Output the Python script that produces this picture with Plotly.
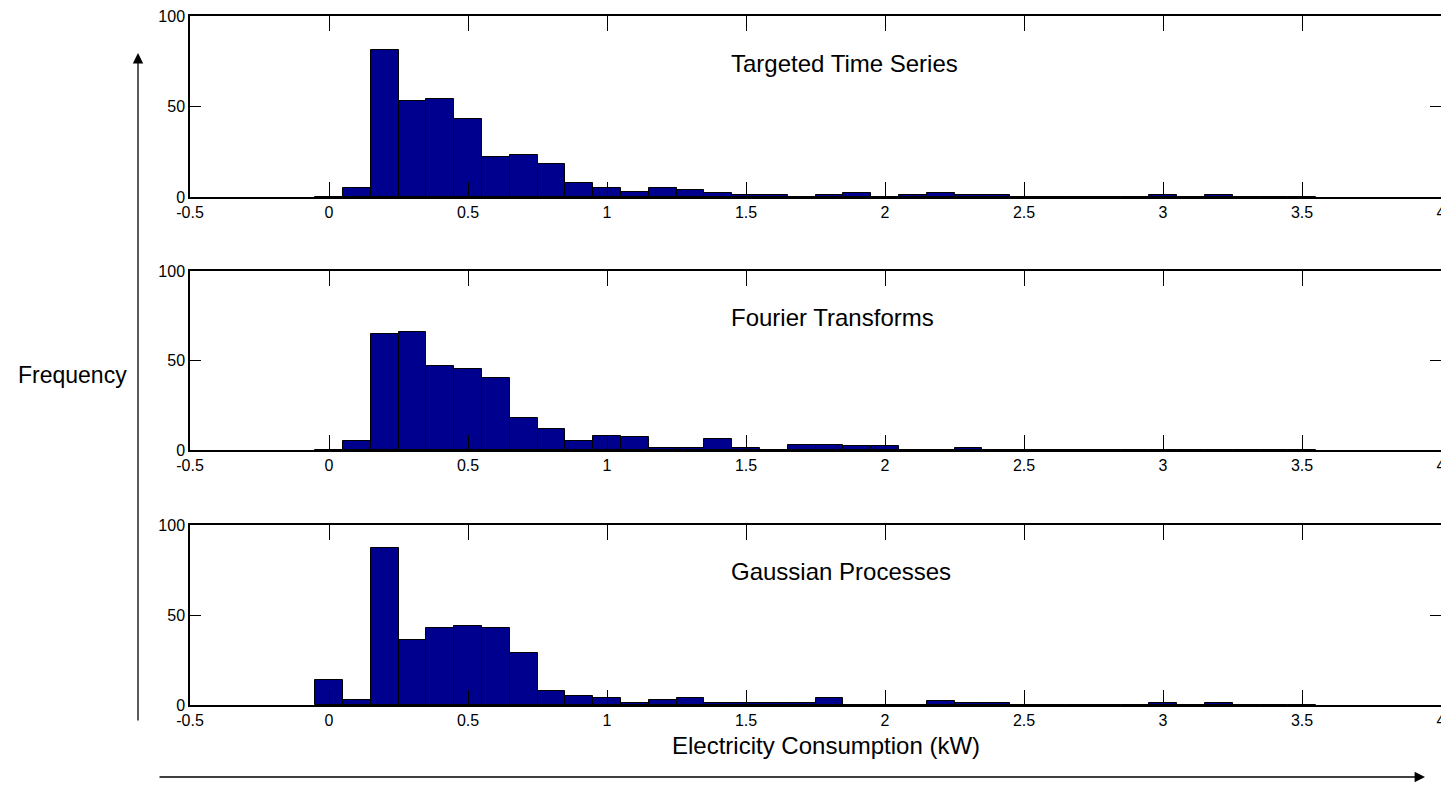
import plotly.graph_objects as go

# Histogram bin centres (kW), bin width 0.1
bin_centers = [round(0.1 * i, 1) for i in range(36)]

# Counts per bin for each method
targeted_counts = [0, 5, 81, 53, 54, 43, 22, 23, 18, 8,
                   5, 3, 5, 4, 2, 1, 1, 0, 1, 2,
                   0, 1, 2, 1, 1, 0, 0, 0, 0, 0,
                   1, 0, 1, 0, 0, 0]
fourier_counts = [0, 5, 65, 66, 47, 45, 40, 18, 12, 5,
                  8, 7, 1, 1, 6, 1, 0, 3, 3, 2,
                  2, 0, 0, 1, 0, 0, 0, 0, 0, 0,
                  0, 0, 0, 0, 0, 0]
gaussian_counts = [14, 3, 87, 36, 43, 44, 43, 29, 8, 5,
                   4, 1, 3, 4, 1, 1, 1, 1, 4, 0,
                   0, 0, 2, 1, 1, 0, 0, 0, 0, 0,
                   1, 0, 1, 0, 0, 0]

panel_titles = ["Targeted Time Series", "Fourier Transforms", "Gaussian Processes"]
x_tick_vals = [-0.5, 0, 0.5, 1, 1.5, 2, 2.5, 3, 3.5, 4]
x_tick_text = ["-0.5", "0", "0.5", "1", "1.5", "2", "2.5", "3", "3.5", "4"]
y_tick_vals = [0, 50, 100]

W, H = 1441, 786
FONT = "Liberation Sans, Arial, Helvetica, sans-serif"
BAR_COLOR = "#00008F"

# Panel placement in pixels (top, bottom)
panel_px = [(16, 197), (271, 450), (525, 705)]
left_px = 190

fig = go.Figure()
series = [targeted_counts, fourier_counts, gaussian_counts]
axes = {}

for i, counts in enumerate(series):
    suffix = "" if i == 0 else str(i + 1)
    fig.add_trace(go.Bar(
        x=bin_centers, y=counts, width=0.1,
        marker=dict(color=BAR_COLOR, line=dict(color="black", width=1)),
        xaxis="x" + suffix, yaxis="y" + suffix, showlegend=False,
    ))
    top, bottom = panel_px[i]
    axes["xaxis" + suffix] = dict(
        domain=[left_px / W, 1.0], range=[-0.5, 4], anchor="y" + suffix,
        tickmode="array", tickvals=x_tick_vals, ticktext=x_tick_text,
        ticks="inside", ticklen=15, tickwidth=1, tickcolor="black",
        showline=True, linecolor="black", linewidth=1.5, mirror="ticks",
        showgrid=False, zeroline=False, automargin=False,
        ticklabeloverflow="allow", layer="above traces",
        tickfont=dict(family=FONT, size=16, color="black"),
    )
    axes["yaxis" + suffix] = dict(
        domain=[1 - bottom / H, 1 - top / H], range=[0, 100], anchor="x" + suffix,
        tickmode="array", tickvals=y_tick_vals,
        ticks="inside", ticklen=11, tickwidth=1, tickcolor="black",
        showline=True, linecolor="black", linewidth=1.5, mirror="ticks",
        showgrid=False, zeroline=False, automargin=False,
        ticklabeloverflow="allow", layer="above traces",
        tickfont=dict(family=FONT, size=16, color="black"),
    )
    fig.add_annotation(
        x=1.44, y=74, xref="x" + suffix, yref="y" + suffix,
        text=panel_titles[i], showarrow=False, xanchor="left", yanchor="middle",
        font=dict(family=FONT, size=24, color="black"),
    )

# Axis captions
fig.add_annotation(
    x=72.5 / W, y=1 - 375 / H, xref="paper", yref="paper",
    text="Frequency", showarrow=False, xanchor="center", yanchor="middle",
    font=dict(family=FONT, size=23, color="black"),
)
fig.add_annotation(
    x=826 / W, y=1 - 745 / H, xref="paper", yref="paper",
    text="Electricity Consumption (kW)", showarrow=False, xanchor="center", yanchor="middle",
    font=dict(family=FONT, size=24, color="black"),
)

# Direction arrows
fig.add_annotation(
    x=138 / W, y=1 - 53 / H, xref="paper", yref="paper",
    ax=0, ay=722 - 53, axref="pixel", ayref="pixel",
    text="", showarrow=True, arrowhead=2, arrowsize=1.6, arrowwidth=1.3,
    arrowcolor="black", standoff=0,
)
fig.add_annotation(
    x=1425 / W, y=1 - 777 / H, xref="paper", yref="paper",
    ax=158 - 1425, ay=0, axref="pixel", ayref="pixel",
    text="", showarrow=True, arrowhead=2, arrowsize=1.6, arrowwidth=1.3,
    arrowcolor="black", standoff=0,
)

fig.update_layout(
    template="none",
    width=W, height=H,
    margin=dict(l=0, r=0, t=0, b=0, pad=0, autoexpand=False),
    paper_bgcolor="white", plot_bgcolor="white",
    bargap=0, showlegend=False,
    **axes,
)

fig.write_html("out.html")
